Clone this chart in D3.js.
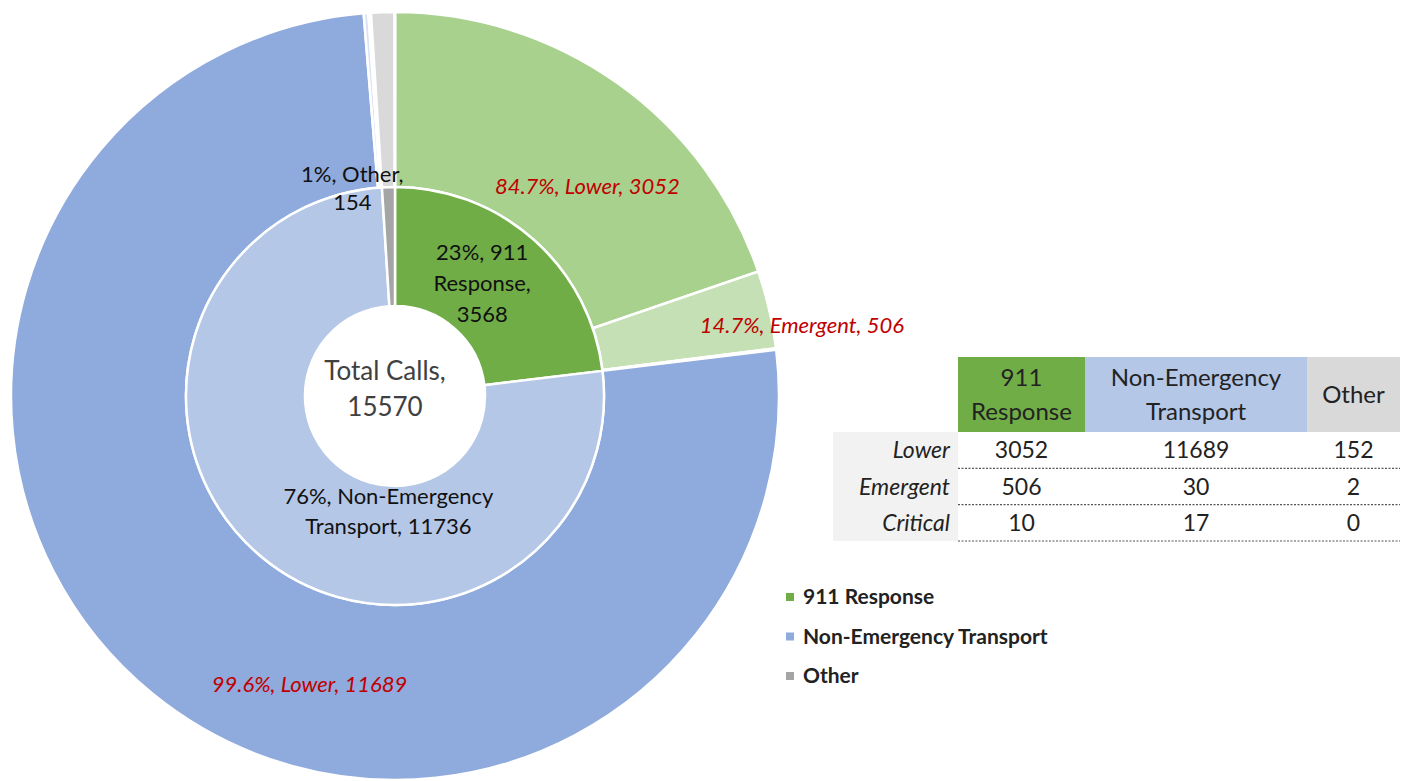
<!DOCTYPE html>
<html>
<head>
<meta charset="utf-8">
<script src="https://cdn.jsdelivr.net/npm/d3@7"></script>
<style>
  body { margin: 0; background: #fff; }
  svg { font-family: Lato, "Open Sans", sans-serif; }
</style>
</head>
<body>
<script>

// call categories and severity levels
var groups = ["911 Response", "Non-Emergency Transport", "Other"];
var groupHeader = [["911", "Response"], ["Non-Emergency", "Transport"], ["Other"]];
var levels = ["Lower", "Emergent", "Critical"];

// counts per group, by level
var lowerCounts = [3052, 11689, 152];
var emergentCounts = [506, 30, 2];
var criticalCounts = [10, 17, 0];

// inner ring labels
var innerLabels = [["23%, 911", "Response,", "3568"], ["76%, Non-Emergency", "Transport, 11736"], ["1%, Other,", "154"]];
var totalLabel = ["Total Calls,", "15570"];

// outer ring labels (only the ones shown)
var outerLabels = [
    { g: 0, l: 0, text: "84.7%, Lower, 3052" },
    { g: 0, l: 1, text: "14.7%, Emergent, 506" },
    { g: 1, l: 0, text: "99.6%, Lower, 11689" }
];

var innerColors = ["#70ad47", "#b4c7e7", "#a5a5a5"];
var outerColors = [
    ["#a9d18e", "#c5e0b4", "#e2f0d9"],
    ["#8faadc", "#dae3f3", "#e9eef8"],
    ["#d9d9d9", "#ededed", "#f4f4f4"]
];
var legendColors = ["#70ad47", "#8faadc", "#a5a5a5"];
var headerColors = ["#70ad47", "#b4c7e7", "#d9d9d9"];

var width = 1405, height = 781;
var cx = 395, cy = 396;
var holeR = 90, midR = 209, outerR = 384;

var svg = d3.select("body").append("svg")
    .attr("width", width)
    .attr("height", height);

var g = svg.append("g")
    .attr("transform", "translate(" + cx + "," + cy + ")");

var byLevel = [lowerCounts, emergentCounts, criticalCounts];
var innerData = groups.map(function (name, i) {
    return { name: name, i: i, value: d3.sum(byLevel, function (arr) { return arr[i]; }) };
});

var outerData = [];
groups.forEach(function (name, i) {
    levels.forEach(function (lv, j) {
        outerData.push({ g: i, l: j, value: byLevel[j][i] });
    });
});

var pie = d3.pie().sort(null).value(function (d) { return d.value; });

var innerArc = d3.arc().innerRadius(holeR).outerRadius(midR);
var outerArc = d3.arc().innerRadius(midR).outerRadius(outerR);

var innerArcs = pie(innerData);
var outerArcs = pie(outerData);

g.selectAll("path.outer").data(outerArcs).enter().append("path")
    .attr("class", "outer")
    .attr("d", outerArc)
    .attr("fill", function (d) { return outerColors[d.data.g][d.data.l]; })
    .attr("stroke", "#fff")
    .attr("stroke-width", 2.5);

g.selectAll("path.inner").data(innerArcs).enter().append("path")
    .attr("class", "inner")
    .attr("d", innerArc)
    .attr("fill", function (d) { return innerColors[d.data.i]; })
    .attr("stroke", "#fff")
    .attr("stroke-width", 2.5);

// nudges so the labels sit where the original put them
var innerNudge = [[-12, -1], [89, 0], [-38, -59]];
var innerLineH = [31, 30, 28];

innerArcs.forEach(function (a, i) {
    var c = innerArc.centroid(a);
    var lines = innerLabels[i];
    var t = g.append("text")
        .attr("text-anchor", "middle")
        .attr("font-size", 22)
        .attr("fill", "#111");
    lines.forEach(function (s, k) {
        t.append("tspan")
            .attr("x", c[0] + innerNudge[i][0])
            .attr("y", c[1] + innerNudge[i][1] + (k - (lines.length - 1) / 2) * innerLineH[i] + 8)
            .text(s);
    });
});

// total in the middle
var tt = g.append("text")
    .attr("text-anchor", "middle")
    .attr("font-size", 26)
    .attr("fill", "#404040");
totalLabel.forEach(function (s, k) {
    tt.append("tspan").attr("x", -10).attr("y", -16 + k * 36).text(s);
});

var outerNudge = [[20, 31], [118, -4], [102, 58]];
outerLabels.forEach(function (lab, k) {
    var a = outerArcs.filter(function (d) { return d.data.g === lab.g && d.data.l === lab.l; })[0];
    var c = outerArc.centroid(a);
    g.append("text")
        .attr("x", c[0] + outerNudge[k][0])
        .attr("y", c[1] + outerNudge[k][1] + 8)
        .attr("text-anchor", "middle")
        .attr("font-size", 22)
        .attr("font-style", "italic")
        .attr("fill", "#c00000")
        .text(lab.text);
});

// table on the right
var colX = d3.scaleOrdinal().domain(groups).range([958, 1085, 1307]);
var colW = [127, 222, 93];
var headTop = 357, headH = 75;
var rowY = d3.scaleBand().domain(levels).range([432, 541]);

var table = svg.append("g").attr("class", "table");

groups.forEach(function (name, i) {
    table.append("rect")
        .attr("x", colX(name)).attr("y", headTop)
        .attr("width", colW[i]).attr("height", headH)
        .attr("fill", headerColors[i]);
    var lines = groupHeader[i];
    var t = table.append("text")
        .attr("text-anchor", "middle")
        .attr("font-size", 24)
        .attr("fill", "#222");
    lines.forEach(function (s, k) {
        t.append("tspan")
            .attr("x", colX(name) + colW[i] / 2)
            .attr("y", headTop + headH / 2 + 8 + (k - (lines.length - 1) / 2) * 34)
            .text(s);
    });
});

table.append("rect")
    .attr("x", 833).attr("y", rowY.range()[0])
    .attr("width", 125).attr("height", rowY.range()[1] - rowY.range()[0])
    .attr("fill", "#f2f2f2");

levels.forEach(function (lv, j) {
    var y = rowY(lv);
    var h = rowY.bandwidth();
    table.append("text")
        .attr("x", 950).attr("y", y + h / 2 + 8)
        .attr("text-anchor", "end")
        .attr("font-size", 23)
        .attr("font-style", "italic")
        .attr("fill", "#222")
        .text(lv);
    groups.forEach(function (name, i) {
        table.append("text")
            .attr("x", colX(name) + colW[i] / 2)
            .attr("y", y + h / 2 + 8)
            .attr("text-anchor", "middle")
            .attr("font-size", 23)
            .attr("fill", "#222")
            .text(byLevel[j][i]);
    });
    table.append("line")
        .attr("x1", 958).attr("x2", 1400)
        .attr("y1", y + h).attr("y2", y + h)
        .attr("stroke", "#555")
        .attr("stroke-width", 1.2)
        .attr("stroke-dasharray", "2,1.5");
});

// legend
var legY = d3.scalePoint().domain(groups).range([597, 676]);
var legend = svg.append("g").attr("class", "legend");
groups.forEach(function (name, i) {
    legend.append("rect")
        .attr("x", 786).attr("y", legY(name) - 4)
        .attr("width", 8).attr("height", 8)
        .attr("fill", legendColors[i]);
    legend.append("text")
        .attr("x", 803).attr("y", legY(name) + 7)
        .attr("font-size", 21)
        .attr("font-weight", "bold")
        .attr("fill", "#222")
        .text(name);
});

</script>
</body>
</html>
